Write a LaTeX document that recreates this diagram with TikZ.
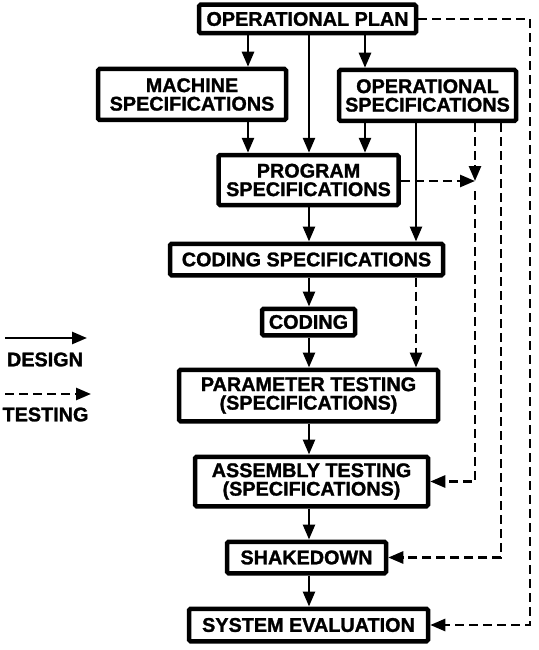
\documentclass[tikz,border=0pt]{standalone}
\usepackage{fontspec}
\setmainfont{Liberation Sans}[BoldFeatures={FakeBold=1.3}]
\usetikzlibrary{arrows.meta}

\tikzset{
    blk/.style={draw, line width=4.5pt, rounded corners=1.5pt, align=center, inner sep=0pt,
        font=\fontsize{19.8}{18.5}\selectfont\bfseries},
    lbl/.style={font=\fontsize{19.8}{18.5}\selectfont\bfseries},
    dsg/.style={line width=2.6pt, -{Triangle[length=15pt, width=12pt]}},
    tst/.style={dsg, dash pattern=on 9pt off 5pt},
}

\begin{document}
\begin{tikzpicture}[x=1pt, y=-1pt]
        \useasboundingbox (0,0) rectangle (538,650);
        % blocks
        \node[blk, minimum width=217pt, minimum height=28.5pt](plan) at (307.5, 19) {OPERATIONAL PLAN};
        \node[blk, minimum width=188pt, minimum height=51pt](mach) at (192, 94.5) {MACHINE\\SPECIFICATIONS};
        \node[blk, minimum width=177pt, minimum height=51pt](ops) at (427.5, 95.5) {OPERATIONAL\\SPECIFICATIONS};
        \node[blk, minimum width=180pt, minimum height=50pt](prog) at (308.5, 180) {PROGRAM\\SPECIFICATIONS};
        \node[blk, minimum width=273pt, minimum height=31.5pt](cspec) at (306.5, 259.5) {CODING SPECIFICATIONS};
        \node[blk, minimum width=93pt, minimum height=26.5pt](coding) at (308.5, 322) {CODING};
        \node[blk, minimum width=259pt, minimum height=51.5pt](param) at (308.5, 395.5) {PARAMETER TESTING\\(SPECIFICATIONS)};
        \node[blk, minimum width=233pt, minimum height=49.5pt](asm) at (311.5, 481.5) {ASSEMBLY TESTING\\(SPECIFICATIONS)};
        \node[blk, minimum width=159pt, minimum height=31.5pt](shake) at (306.5, 557.5) {SHAKEDOWN};
        \node[blk, minimum width=239pt, minimum height=32.5pt](sys) at (308.5, 625) {SYSTEM EVALUATION};
        % legend
        \node[lbl](dsgn) at (45, 359.5) {DESIGN};
        \node[lbl](tsting) at (45.5, 414.5) {TESTING};
        \coordinate (d0) at (5, 338);
        \coordinate (d1) at (87, 338);
        \coordinate (t0) at (5, 394);
        \coordinate (t1) at (91, 394);
        % columns
        \coordinate (xl) at (248, 0);
        \coordinate (xm) at (309, 0);
        \coordinate (xr) at (365, 0);
        \coordinate (xs) at (416, 0);
        \coordinate (xa) at (475, 0);
        \coordinate (xb) at (501, 0);
        \coordinate (xc) at (530, 300);
        \coordinate (j) at (475, 181);
        % design
        \draw[dsg] (d0) -- (d1);
        \draw[dsg] (plan.south -| xl) -- (mach.north -| xl);
        \draw[dsg] (plan.south -| xm) -- (prog.north -| xm);
        \draw[dsg] (plan.south -| xr) -- (ops.north -| xr);
        \draw[dsg] (mach.south -| xl) -- (prog.north -| xl);
        \draw[dsg] (ops.south -| xr) -- (prog.north -| xr);
        \draw[dsg] (ops.south -| xs) -- (cspec.north -| xs);
        \draw[dsg] (prog.south -| xm) -- (cspec.north -| xm);
        \draw[dsg] (cspec.south -| xm) -- (coding.north -| xm);
        \draw[dsg] (coding.south -| xm) -- (param.north -| xm);
        \draw[dsg] (param.south -| xm) -- (asm.north -| xm);
        \draw[dsg] (asm.south -| xm) -- (shake.north -| xm);
        \draw[dsg] (shake.south -| xm) -- (sys.north -| xm);
        % testing
        \draw[tst] (t0) -- (t1);
        \draw[tst] (ops.south -| xa) -- (j);
        \draw[tst] (prog.east |- j) -- (j);
        \draw[tst] ([yshift=-10pt]j) |- (asm.east);
        \draw[tst] (ops.south -| xb) |- (shake.east);
        \draw[tst] (plan.east) -| (xc) |- (sys.east);
        \draw[tst] (cspec.south -| xs) -- (param.north -| xs);
\end{tikzpicture}
\end{document}
